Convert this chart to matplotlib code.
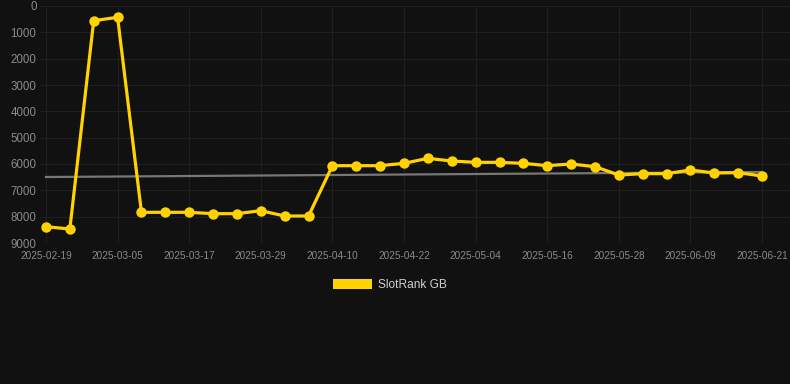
import matplotlib
matplotlib.use("Agg")
import matplotlib.pyplot as plt
from matplotlib.patches import Patch

plt.rcParams['font.family'] = ['Liberation Sans', 'DejaVu Sans']

# ---- data ----
tick_labels = ["2025-02-19", "2025-03-05", "2025-03-17", "2025-03-29", "2025-04-10",
               "2025-04-22", "2025-05-04", "2025-05-16", "2025-05-28", "2025-06-09",
               "2025-06-21"]
rank_values = [8380, 8470, 557, 430, 7835, 7835, 7835, 7886, 7886, 7773, 7975, 7975,
               6063, 6063, 6063, 5975, 5785, 5887, 5937, 5937, 5975, 6063, 6000, 6101,
               6418, 6367, 6367, 6228, 6342, 6329, 6456]
trend_values = [6494, 6304]
y_ticks = [0, 1000, 2000, 3000, 4000, 5000, 6000, 7000, 8000, 9000]
series_name = "SlotRank GB"

# ---- figure ----
W, H = 790, 384
fig = plt.figure(figsize=(W / 100, H / 100), dpi=100)
bg = "#111111"
fig.patch.set_facecolor(bg)
ax = fig.add_axes([40 / W, (H - 243) / H, 750 / W, 237 / H])
ax.set_facecolor(bg)

n = len(rank_values)
xs = list(range(n))
ax.plot([0, n - 1], trend_values, color="#777777", lw=1.6, zorder=2)
ax.plot(xs, rank_values, color="#FFD200", lw=2.3, marker="o", markersize=7.5,
        markeredgewidth=0, zorder=3)

ax.set_xlim(-0.25, 31.17)
ax.set_ylim(9000, 0)
ax.set_yticks(y_ticks)
ax.set_yticklabels([str(v) for v in y_ticks])
ax.set_xticks(list(range(0, n, 3)))
ax.set_xticklabels(tick_labels)

ax.grid(True, color="#1f1f1f", lw=0.8)
ax.set_axisbelow(True)
for s in ax.spines.values():
    s.set_visible(False)
ax.tick_params(axis="y", length=0, pad=2.5, labelsize=8.3, labelcolor="#8a8a8a")
ax.tick_params(axis="x", length=0, pad=6, labelsize=7.2, labelcolor="#8a8a8a")

fig.legend(handles=[Patch(facecolor="#FFD200", edgecolor="none", label=series_name)],
           loc="center", bbox_to_anchor=(390 / W, 1 - 285 / H), frameon=False,
           fontsize=8.6, labelcolor="#d0d0d0", handlelength=3.3, handleheight=1.0,
           handletextpad=0.5, borderpad=0)

fig.savefig("out.png", dpi=100, facecolor=bg)
